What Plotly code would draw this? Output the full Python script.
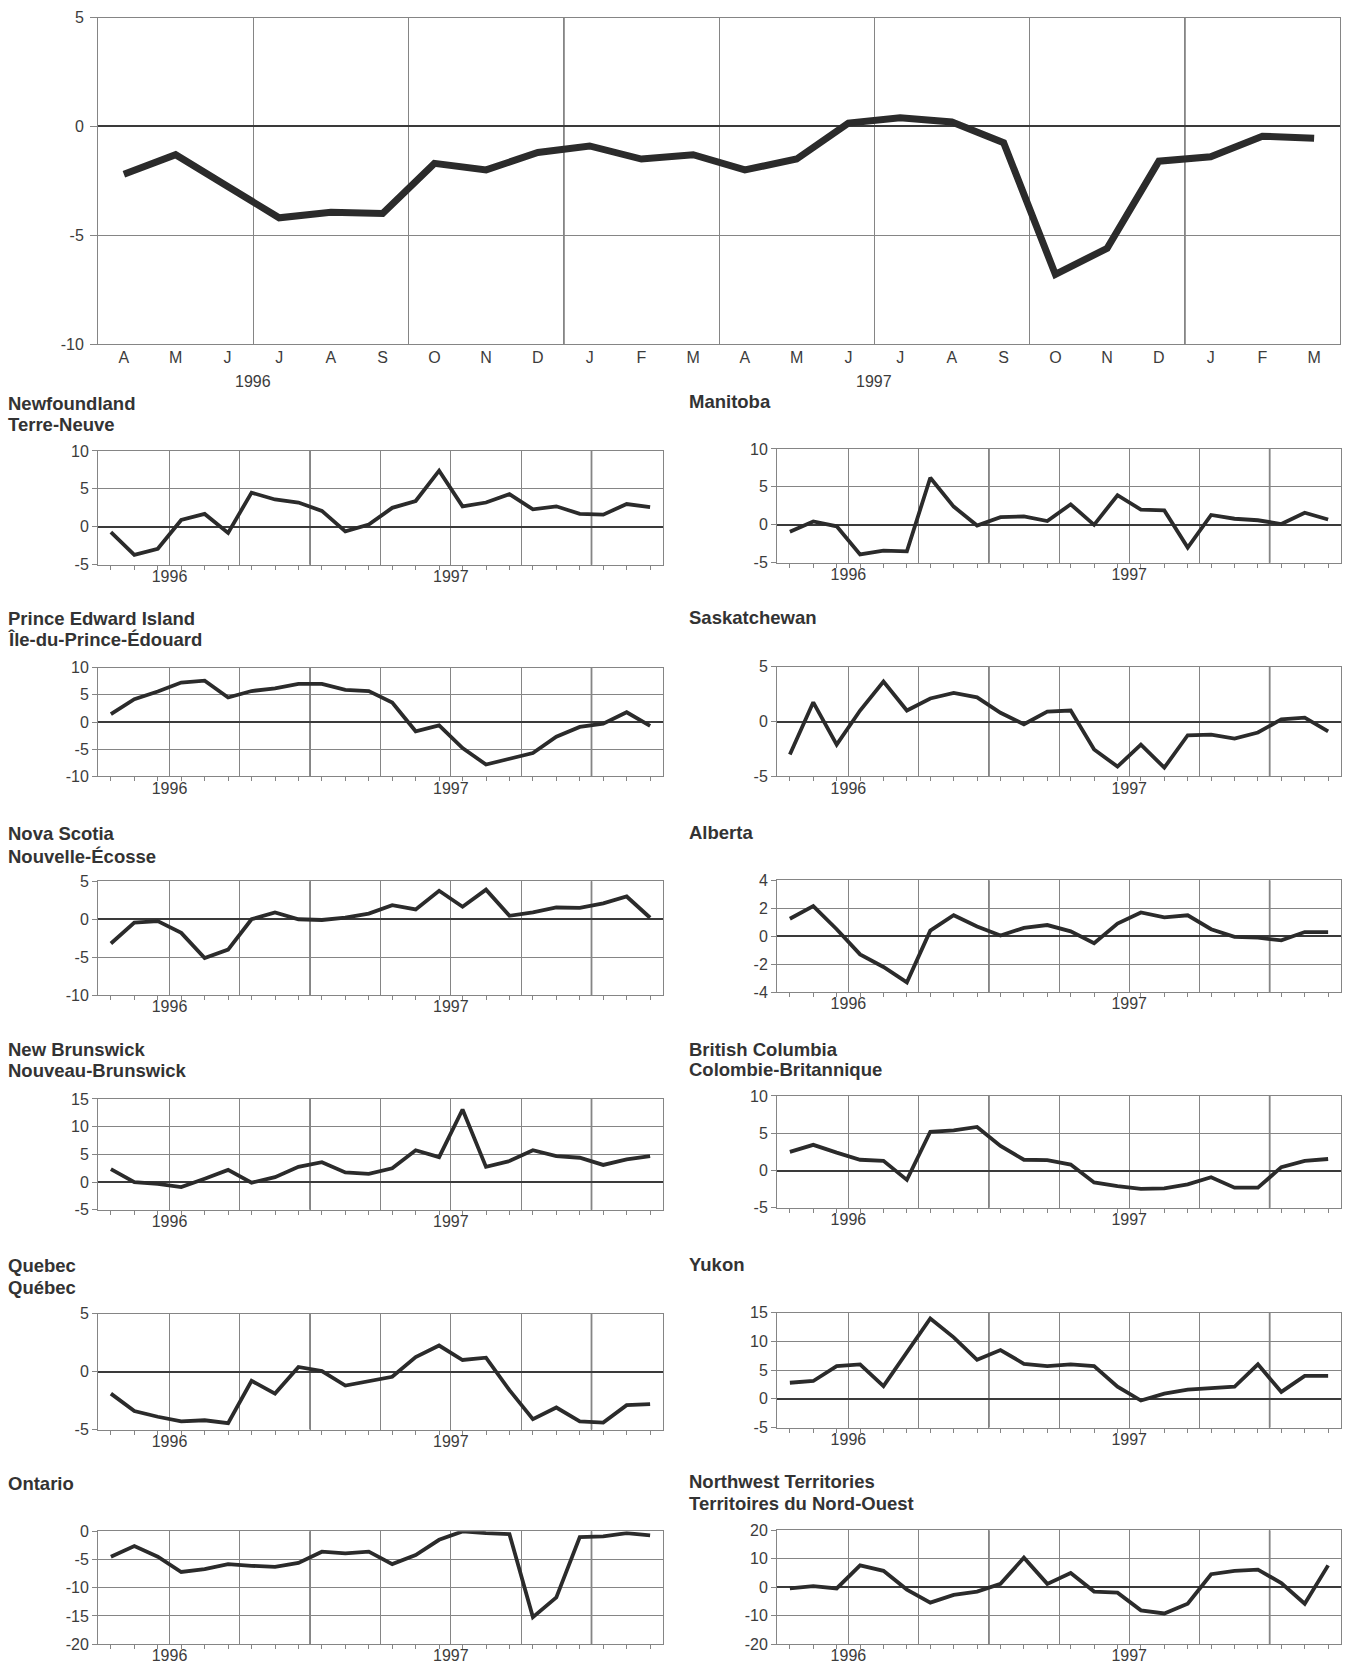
import plotly.graph_objects as go

# ---------------- data ----------------
months = ["A", "M", "J", "J", "A", "S", "O", "N", "D", "J", "F", "M",
          "A", "M", "J", "J", "A", "S", "O", "N", "D", "J", "F", "M"]
year_labels = ["1996", "1997"]

canada = [-2.2, -1.3, -2.75, -4.2, -3.95, -4.0, -1.7, -2.0, -1.2, -0.9, -1.5, -1.3,
          -2.0, -1.5, 0.15, 0.4, 0.2, -0.75, -6.8, -5.6, -1.6, -1.4, -0.45, -0.55]

newfoundland = [-0.7, -3.7, -2.9, 0.9, 1.7, -0.8, 4.5, 3.6, 3.2, 2.1, -0.6, 0.3,
                2.5, 3.4, 7.4, 2.7, 3.2, 4.3, 2.3, 2.7, 1.7, 1.6, 3.0, 2.6]
pei = [1.45, 4.2, 5.6, 7.25, 7.6, 4.5, 5.7, 6.2, 7.0, 7.0, 5.9, 5.7,
       3.6, -1.7, -0.6, -4.8, -7.8, -6.8, -5.7, -2.7, -0.9, -0.3, 1.8, -0.7]
nova_scotia = [-3.2, -0.45, -0.25, -1.8, -5.1, -4.0, 0.0, 0.9, 0.0, -0.1, 0.2, 0.75,
               1.85, 1.3, 3.75, 1.65, 3.9, 0.45, 0.9, 1.55, 1.5, 2.1, 3.0, 0.2]
new_brunswick = [2.35, 0.0, -0.3, -0.9, 0.6, 2.2, -0.1, 0.9, 2.75, 3.6, 1.75, 1.5,
                 2.5, 5.75, 4.5, 13.1, 2.75, 3.8, 5.75, 4.7, 4.4, 3.1, 4.1, 4.7]
quebec = [-1.9, -3.4, -3.9, -4.3, -4.2, -4.45, -0.8, -1.9, 0.4, 0.05, -1.2, -0.8,
          -0.45, 1.25, 2.25, 1.0, 1.2, -1.6, -4.1, -3.1, -4.3, -4.4, -2.9, -2.8]
ontario = [-4.5, -2.6, -4.5, -7.2, -6.7, -5.8, -6.1, -6.3, -5.6, -3.6, -3.9, -3.6,
           -5.8, -4.2, -1.5, 0.0, -0.3, -0.5, -15.2, -11.7, -1.0, -0.9, -0.3, -0.7]
manitoba = [-0.9, 0.45, -0.2, -3.9, -3.4, -3.5, 6.2, 2.4, -0.1, 1.0, 1.1, 0.5,
            2.7, 0.0, 3.9, 2.0, 1.9, -3.0, 1.3, 0.8, 0.6, 0.1, 1.6, 0.7]
saskatchewan = [-3.0, 1.75, -2.1, 1.0, 3.65, 1.0, 2.1, 2.6, 2.2, 0.8, -0.25, 0.9,
                1.0, -2.55, -4.1, -2.1, -4.2, -1.25, -1.2, -1.55, -1.0, 0.2, 0.35, -0.9]
alberta = [1.25, 2.15, 0.5, -1.3, -2.2, -3.3, 0.4, 1.5, 0.7, 0.05, 0.6, 0.8,
           0.35, -0.5, 0.9, 1.7, 1.35, 1.5, 0.5, -0.05, -0.1, -0.3, 0.3, 0.3]
british_columbia = [2.5, 3.45, 2.4, 1.45, 1.3, -1.25, 5.2, 5.4, 5.85, 3.3, 1.45, 1.4,
                    0.8, -1.6, -2.1, -2.45, -2.4, -1.85, -0.9, -2.3, -2.3, 0.45, 1.3, 1.55]
yukon = [2.8, 3.1, 5.7, 6.0, 2.2, 8.1, 14.0, 10.7, 6.8, 8.5, 6.1, 5.7,
         6.0, 5.7, 2.1, -0.3, 0.9, 1.6, 1.9, 2.1, 6.0, 1.2, 4.0, 4.0]
nwt = [-0.4, 0.4, -0.4, 7.7, 5.8, -0.8, -5.4, -2.7, -1.5, 1.2, 10.4, 1.2,
       5.0, -1.5, -1.9, -8.1, -9.2, -5.8, 4.6, 5.8, 6.2, 1.5, -5.8, 7.7]

panel_names = [
    ("Newfoundland", "Terre-Neuve"), ("Prince Edward Island", "Île-du-Prince-Édouard"),
    ("Nova Scotia", "Nouvelle-Écosse"), ("New Brunswick", "Nouveau-Brunswick"),
    ("Quebec", "Québec"), ("Ontario", None),
    ("Manitoba", None), ("Saskatchewan", None), ("Alberta", None),
    ("British Columbia", "Colombie-Britannique"), ("Yukon", None),
    ("Northwest Territories", "Territoires du Nord-Ouest"),
]
panel_values = [newfoundland, pei, nova_scotia, new_brunswick, quebec, ontario,
                manitoba, saskatchewan, alberta, british_columbia, yukon, nwt]
panel_ranges = [(-5, 10), (-10, 10), (-10, 5), (-5, 15), (-5, 5), (-20, 0),
                (-5, 10), (-5, 5), (-4, 4), (-5, 10), (-5, 15), (-20, 20)]
panel_dticks = [5, 5, 5, 5, 5, 5, 5, 5, 2, 5, 5, 10]
top_range = (-10, 5)
top_dtick = 5

# ---------------- layout / style ----------------
W, H = 1345, 1664
FONT = "Liberation Sans, Arial, Helvetica, sans-serif"
GRID = "#858585"
DARK = "#3a3a3a"
LINE = "#2b2b2b"
TXT = "#3c3c3c"
TICK_SIZE = 16
TITLE_SIZE = 18.5
# page offset/scale calibration of the vertical placement
Y_OFF, Y_SCALE = 6.45, 0.9906

x = list(range(len(months)))
grid_pos = [i - 0.5 for i in range(3, len(months), 3)]
year_bounds = [i - 0.5 for i in range(1, len(months)) if months[i] == "J" and months[i - 1] == "D"]
year_pos = [i - 0.5 for i in range(1, len(months)) if months[i] == "J" and months[i - 1] == "J"]


def yticks(lo, hi, step):
    vals = []
    v = lo
    while v <= hi + 1e-9:
        vals.append(v)
        v += step
    return vals, [str(int(v)) for v in vals]


# pixel boxes (left, right, top, bottom) in target picture pixels
top_box = (98, 1340, 16, 343)
left_x = (98, 663)
right_x = (777, 1341)
left_rows = [(450, 564), (667, 776), (881, 995), (1099, 1210), (1314, 1430), (1532, 1645)]
right_rows = [(448, 562), (666, 776), (880, 992), (1096, 1208), (1313, 1428), (1531, 1645)]
left_title_y = [(403, 424), (618, 639), (833, 856), (1049, 1070), (1266, 1288), (1484, None)]
right_title_y = [(401, None), (617, None), (832, None), (1049, 1069), (1265, None), (1482, 1504)]
top_year_y = 380


def xd(a, b):
    return [a / W, b / W]


def py(p):
    return 1 - ((p - Y_OFF) / Y_SCALE) / H


def yd(t, b):
    return [py(b), py(t)]


fig = go.Figure()
layout = dict(width=W, height=H, margin=dict(l=0, r=0, t=0, b=0),
              paper_bgcolor="white", plot_bgcolor="white", showlegend=False,
              font=dict(family=FONT, size=TICK_SIZE, color=TXT))
annotations = []
shapes = []

# ---- top chart (axis 1) ----
fig.add_trace(go.Scatter(x=x, y=canada, mode="lines", line=dict(color=LINE, width=7),
                         xaxis="x", yaxis="y", hoverinfo="skip"))
l, r, t, b = top_box
tv, tt = yticks(top_range[0], top_range[1], top_dtick)
layout["xaxis"] = dict(domain=xd(l, r), range=[-0.5, len(months) - 0.5], anchor="y",
                       tickmode="array", tickvals=x, ticktext=months, showgrid=False,
                       ticks="", ticklabelstandoff=-1, zeroline=False,
                       showline=True, mirror=True, linecolor=GRID, linewidth=1,
                       tickfont=dict(size=TICK_SIZE, color=TXT),
                       minor=dict(tickmode="array", tickvals=grid_pos, showgrid=True,
                                  gridcolor=GRID, gridwidth=1, ticks=""))
layout["yaxis"] = dict(domain=yd(t, b), range=list(top_range), anchor="x",
                       tickmode="array", tickvals=tv, ticktext=tt,
                       showgrid=True, gridcolor=GRID, gridwidth=1,
                       zeroline=True, zerolinecolor=DARK, zerolinewidth=1.5,
                       ticks="outside", ticklen=7, tickcolor=GRID,
                       ticklabelstandoff=3,
                       showline=True, mirror=True, linecolor=GRID, linewidth=1,
                       tickfont=dict(size=TICK_SIZE, color=TXT))
for xb in year_bounds:
    shapes.append(dict(type="line", xref="x", yref="y domain", x0=xb, x1=xb, y0=0, y1=1,
                       line=dict(color=DARK, width=1.5), layer="below"))
for xp, lab in zip(year_pos, year_labels):
    annotations.append(dict(x=xp, xref="x", y=py(top_year_y), yref="paper", text=lab,
                            showarrow=False, xanchor="center", yanchor="middle",
                            font=dict(size=TICK_SIZE, color=TXT)))

# ---- small charts ----
for k in range(12):
    ax = k + 2
    xa, ya = f"x{ax}", f"y{ax}"
    col = 0 if k < 6 else 1
    row = k % 6
    lx, rx = left_x if col == 0 else right_x
    tp, bt = (left_rows if col == 0 else right_rows)[row]
    fig.add_trace(go.Scatter(x=x, y=panel_values[k], mode="lines",
                             line=dict(color=LINE, width=3.8),
                             xaxis=xa, yaxis=ya, hoverinfo="skip"))
    ttext = [year_labels[year_pos.index(g)] if g in year_pos else "" for g in grid_pos]
    layout[f"xaxis{ax}"] = dict(domain=xd(lx, rx), range=[-0.55, len(months) - 0.45],
                                anchor=ya, tickmode="array", tickvals=grid_pos,
                                ticktext=ttext, showgrid=True, gridcolor=GRID, gridwidth=1,
                                ticks="", ticklabelstandoff=-3, zeroline=False,
                                showline=True, mirror=True, linecolor=GRID, linewidth=1,
                                tickfont=dict(size=TICK_SIZE, color=TXT),
                                minor=dict(tickmode="array", tickvals=x, ticks="outside",
                                           ticklen=4, tickcolor=GRID, showgrid=False))
    lo, hi = panel_ranges[k]
    tv, tt = yticks(lo, hi, panel_dticks[k])
    layout[f"yaxis{ax}"] = dict(domain=yd(tp, bt), range=[lo, hi], anchor=xa,
                                tickmode="array", tickvals=tv, ticktext=tt,
                                showgrid=True, gridcolor=GRID, gridwidth=1,
                                zeroline=True, zerolinecolor=DARK, zerolinewidth=1.5,
                                ticks="outside", ticklen=5, tickcolor=GRID,
                                ticklabelstandoff=0,
                                showline=True, mirror=True, linecolor=GRID, linewidth=1,
                                tickfont=dict(size=TICK_SIZE, color=TXT))
    for xb in year_bounds:
        shapes.append(dict(type="line", xref=xa, yref=f"{ya} domain", x0=xb, x1=xb,
                           y0=0, y1=1, line=dict(color=DARK, width=1.5), layer="below"))
    en, fr = panel_names[k]
    ty1, ty2 = (left_title_y if col == 0 else right_title_y)[row]
    tx = 6 if col == 0 else 687
    for txt, ty in ((en, ty1), (fr, ty2)):
        if txt is None or ty is None:
            continue
        annotations.append(dict(x=tx / W, xref="paper", y=py(ty), yref="paper",
                                text=f"<b>{txt}</b>", showarrow=False,
                                xanchor="left", yanchor="middle",
                                font=dict(size=TITLE_SIZE, color="#333333", family=FONT)))

layout["annotations"] = annotations
layout["shapes"] = shapes
fig.update_layout(**layout)
fig.write_html("out.html", config={"displayModeBar": False},
               post_script="document.body.style.margin='0';document.body.style.overflow='hidden';")
